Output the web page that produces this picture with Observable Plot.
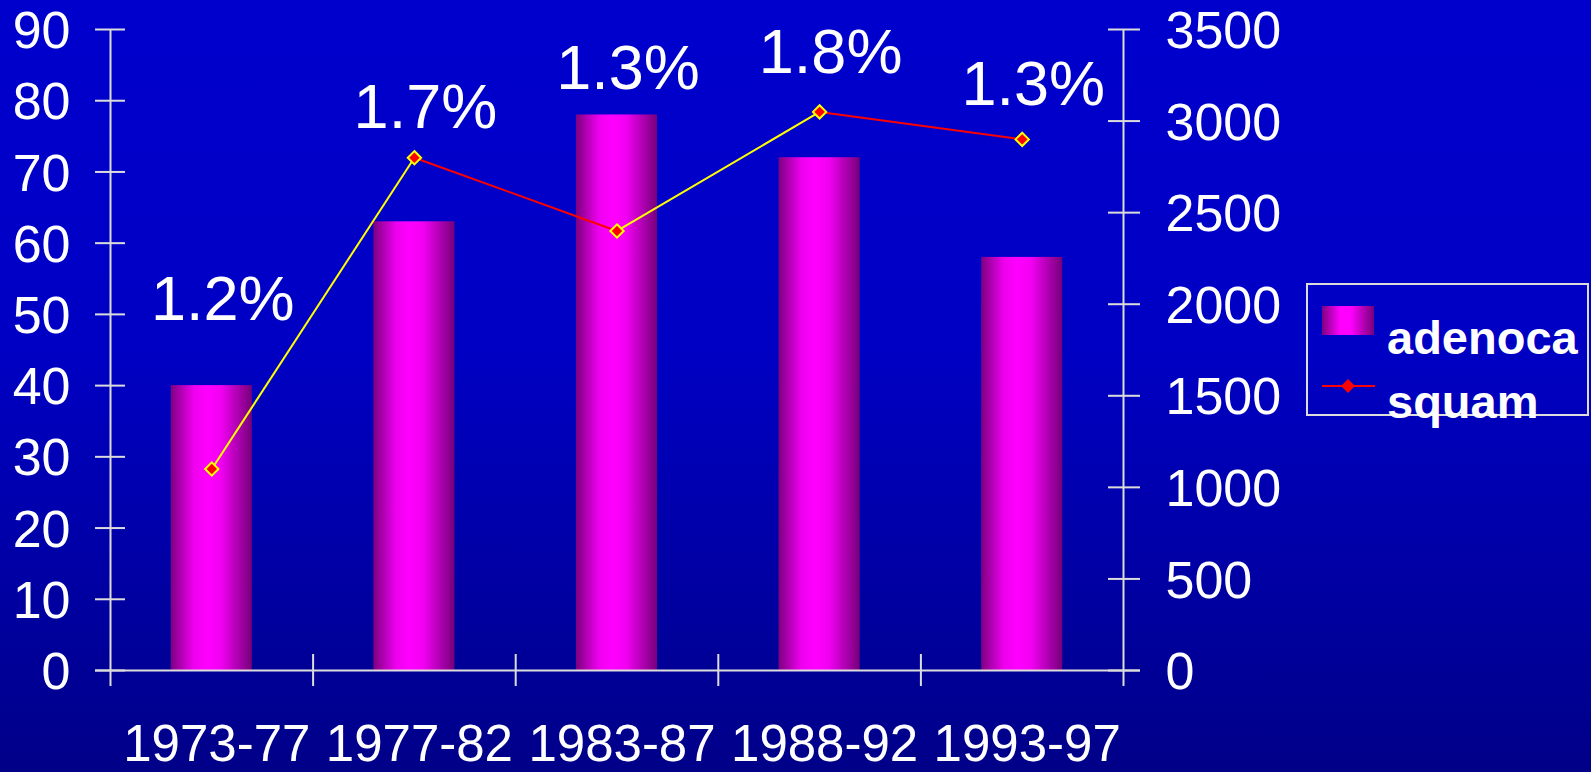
<!DOCTYPE html>
<html>
<head>
<meta charset="utf-8">
<script src="https://cdn.jsdelivr.net/npm/d3@7"></script>
<script src="https://cdn.jsdelivr.net/npm/@observablehq/plot@0.6"></script>
<style>
  html, body { margin: 0; padding: 0; }
  body { width: 1591px; height: 772px; overflow: hidden; background: linear-gradient(#0000cd, #0000c4 45%, #000088); font-family: "Liberation Sans", Arial, sans-serif; }
  #wrap { position: relative; width: 1591px; height: 772px; }
  #legend { position: absolute; left: 0; top: 0; pointer-events: none; }
</style>
</head>
<body>
<div id="wrap"></div>
<script>
// ---- data ----
const periods = ["1973-77", "1977-82", "1983-87", "1988-92", "1993-97"];
const adenoca = [40, 63, 78, 72, 58];          // left axis
const squam = [1100, 2800, 2400, 3050, 2900];  // right axis
const pctLabels = ["1.2%", "1.7%", "1.3%", "1.8%", "1.3%"];
const pctLabelLevel = [52, 79, 84.5, 86.7, 82.2]; // in left-axis units
const leftTicks = [0, 10, 20, 30, 40, 50, 60, 70, 80, 90];
const rightTicks = [0, 500, 1000, 1500, 2000, 2500, 3000, 3500];
const leftMax = 90, rightMax = 3500;

const toLeft = v => v * leftMax / rightMax;
const rows = periods.map((p, i) => ({i, period: p, adenoca: adenoca[i], squam: squam[i], pct: pctLabels[i], level: pctLabelLevel[i]}));
const segs = d3.pairs(rows).map(([a, b]) => ({x1: a.i + 0.5, y1: toLeft(a.squam), x2: b.i + 0.5, y2: toLeft(b.squam), up: b.squam > a.squam}));

const axisColor = "#dcdcdc";

const defs = () => {
  const g = document.createElementNS("http://www.w3.org/2000/svg", "defs");
  g.innerHTML = `<linearGradient id="barGrad" x1="0" x2="1" y1="0" y2="0">
    <stop offset="0" stop-color="#7d0080"/>
    <stop offset="0.28" stop-color="#ee00ee"/>
    <stop offset="0.45" stop-color="#ff00ff"/>
    <stop offset="0.62" stop-color="#f200f2"/>
    <stop offset="1" stop-color="#76007a"/>
  </linearGradient>`;
  return g;
};

const chart = Plot.plot({
  width: 1591,
  height: 772,
  marginLeft: 110,
  marginRight: 468,
  marginTop: 29,
  marginBottom: 102,
  style: {background: "transparent", color: "white", fontFamily: "'Liberation Sans', Arial, sans-serif"},
  x: {type: "linear", domain: [0, periods.length]},
  y: {domain: [0, leftMax]},
  marks: [
    defs,
    Plot.rectY(rows, {x1: d => d.i + 0.3, x2: d => d.i + 0.7, y: "adenoca", fill: "url(#barGrad)"}),
    // axis lines
    Plot.ruleX([0, periods.length], {y1: leftMax, y2: 0, insetBottom: -16, stroke: axisColor, strokeWidth: 2}),
    Plot.ruleY([0], {x1: 0, x2: periods.length, insetLeft: -15, insetRight: -17, stroke: axisColor, strokeWidth: 2}),
    Plot.ruleY(leftTicks, {x1: 0, x2: 0, insetLeft: -15, insetRight: -15, stroke: axisColor, strokeWidth: 2}),
    Plot.ruleY(rightTicks.map(toLeft), {x1: periods.length, x2: periods.length, insetLeft: -15, insetRight: -17, stroke: axisColor, strokeWidth: 2}),
    Plot.ruleX(d3.range(1, periods.length), {y1: 0, y2: 0, insetTop: 16, insetBottom: 16, stroke: axisColor, strokeWidth: 2}),
    // tick labels
    Plot.axisY(leftTicks, {anchor: "left", tickSize: 0, tickPadding: 40, fontSize: 52, dy: 2, label: null}),
    Plot.axisY(rightTicks.map(toLeft), {anchor: "right", tickSize: 0, tickPadding: 42, fontSize: 52, dy: 2, label: null,
      tickFormat: d => String(Math.round(d * rightMax / leftMax))}),
    Plot.axisX(rows.map(d => d.i + 0.5), {anchor: "bottom", tickSize: 0, tickPadding: 54, fontSize: 51, dx: 5, label: null,
      tickFormat: d => periods[Math.floor(d)]}),
    // squam line
    Plot.link(segs, {filter: d => d.up, x1: "x1", y1: "y1", x2: "x2", y2: "y2", stroke: "#ffff00", strokeWidth: 2}),
    Plot.link(segs, {filter: d => !d.up, x1: "x1", y1: "y1", x2: "x2", y2: "y2", stroke: "#ff0000", strokeWidth: 2}),
    Plot.dot(rows, {x: d => d.i + 0.5, y: d => toLeft(d.squam), symbol: "diamond2", r: 6, fill: "#ff0000", stroke: "#ffff00", strokeWidth: 2}),
    // percentage annotations
    Plot.text(rows, {x: d => d.i + 0.5, y: "level", text: "pct", fontSize: 63, fill: "white", dx: 11})
  ]
});

const wrap = document.getElementById("wrap");
wrap.appendChild(chart);

// legend overlay
const legend = document.createElementNS("http://www.w3.org/2000/svg", "svg");
legend.setAttribute("id", "legend");
legend.setAttribute("width", 1591);
legend.setAttribute("height", 772);
legend.innerHTML = `
  <defs><linearGradient id="legGrad" x1="0" x2="1" y1="0" y2="0">
    <stop offset="0" stop-color="#7d0080"/>
    <stop offset="0.35" stop-color="#ff00ff"/>
    <stop offset="0.55" stop-color="#ff00ff"/>
    <stop offset="1" stop-color="#76007a"/>
  </linearGradient></defs>
  <rect x="1307" y="284" width="281" height="131" fill="none" stroke="${axisColor}" stroke-width="2"/>
  <rect x="1322" y="306" width="52" height="29" fill="url(#legGrad)"/>
  <line x1="1322" x2="1375" y1="386" y2="386" stroke="#ff0000" stroke-width="2"/>
  <path d="M1348,379 L1355,386 L1348,393 L1341,386 Z" fill="#ff0000"/>
  <g font-family="'Liberation Sans', Arial, sans-serif" font-weight="bold" font-size="47" fill="white">
    <text x="1387" y="354">${"adenoca"}</text>
    <text x="1387" y="418">${"squam"}</text>
  </g>`;
wrap.appendChild(legend);
</script>
</body>
</html>
